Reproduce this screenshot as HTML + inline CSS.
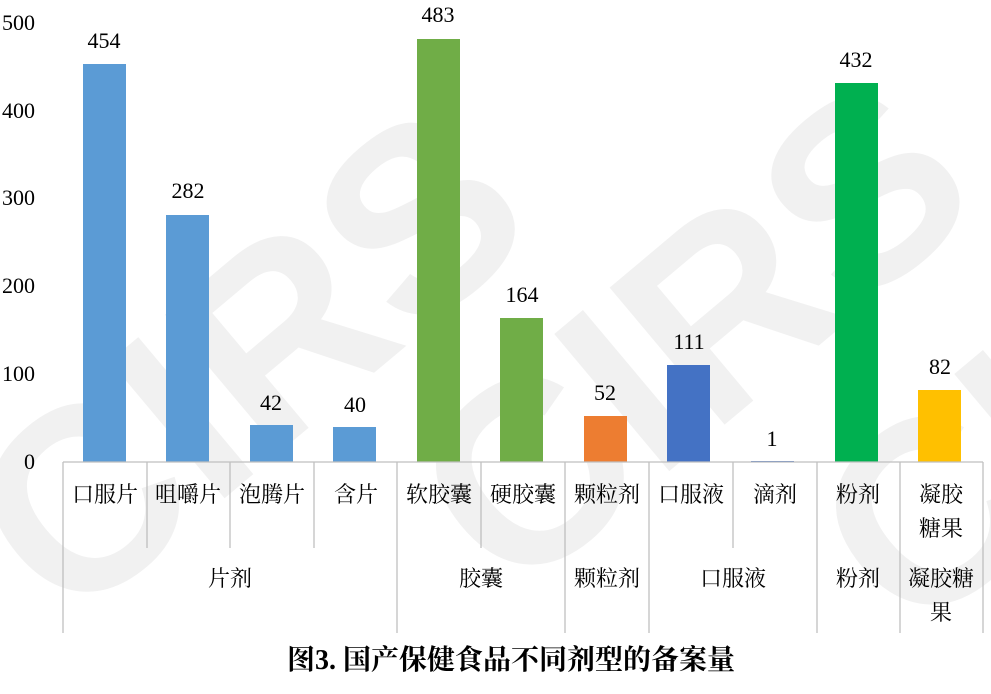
<!DOCTYPE html>
<html><head><meta charset="utf-8"><style>
body{margin:0;background:#fff;width:991px;height:694px;overflow:hidden}
svg{display:block}
text{font-family:"Liberation Serif","Noto Serif CJK SC",serif;fill:#000}
</style></head><body>
<svg width="991" height="694" viewBox="0 0 991 694">
<g font-size="260" font-weight="bold">
<text x="-60" y="560" transform="rotate(-40 100 420)" style="fill:#f1f1f1;font-family:'Liberation Sans',sans-serif">CIRS</text>
<text x="380" y="520" transform="rotate(-40 560 380)" style="fill:#f1f1f1;font-family:'Liberation Sans',sans-serif">CIRS</text>
<text x="780" y="560" transform="rotate(-40 960 420)" style="fill:#f1f1f1;font-family:'Liberation Sans',sans-serif">CIRS</text>
</g>
<g font-size="22">
<text x="2" y="30">500</text>
<text x="2" y="118">400</text>
<text x="2" y="205">300</text>
<text x="2" y="293">200</text>
<text x="2" y="381">100</text>
<text x="24" y="469">0</text>
</g>
<g>
<rect x="83" y="64" width="43" height="398" fill="#5B9BD5"/>
<rect x="166" y="215" width="43" height="247" fill="#5B9BD5"/>
<rect x="250" y="425" width="43" height="37" fill="#5B9BD5"/>
<rect x="333" y="427" width="43" height="35" fill="#5B9BD5"/>
<rect x="417" y="39" width="43" height="423" fill="#70AD47"/>
<rect x="500" y="318" width="43" height="144" fill="#70AD47"/>
<rect x="584" y="416" width="43" height="46" fill="#ED7D31"/>
<rect x="667" y="365" width="43" height="97" fill="#4472C4"/>
<rect x="751" y="461" width="43" height="1" fill="#4472C4"/>
<rect x="835" y="83" width="43" height="379" fill="#00B050"/>
<rect x="918" y="390" width="43" height="72" fill="#FFC000"/>
</g>
<g font-size="22" text-anchor="middle">
<text x="104" y="48">454</text>
<text x="188" y="198">282</text>
<text x="271" y="410">42</text>
<text x="355" y="412">40</text>
<text x="438" y="22">483</text>
<text x="522" y="302">164</text>
<text x="605" y="400">52</text>
<text x="689" y="349">111</text>
<text x="772" y="446">1</text>
<text x="856" y="67">432</text>
<text x="940" y="374">82</text>
</g>
<g stroke="#bfbfbf" stroke-width="1.3">
<line x1="63" y1="462" x2="983" y2="462"/>
<line x1="63" y1="462" x2="63" y2="633"/>
<line x1="397" y1="462" x2="397" y2="633"/>
<line x1="565" y1="462" x2="565" y2="633"/>
<line x1="649" y1="462" x2="649" y2="633"/>
<line x1="817" y1="462" x2="817" y2="633"/>
<line x1="900" y1="462" x2="900" y2="633"/>
<line x1="983" y1="462" x2="983" y2="633"/>
<line x1="147" y1="462" x2="147" y2="548"/>
<line x1="230" y1="462" x2="230" y2="548"/>
<line x1="314" y1="462" x2="314" y2="548"/>
<line x1="481" y1="462" x2="481" y2="548"/>
<line x1="733" y1="462" x2="733" y2="548"/>
</g>
<g font-size="22" text-anchor="middle">
<text x="105" y="502">口服片</text>
<text x="188" y="502">咀嚼片</text>
<text x="272" y="502">泡腾片</text>
<text x="356" y="502">含片</text>
<text x="439" y="502">软胶囊</text>
<text x="523" y="502">硬胶囊</text>
<text x="607" y="502">颗粒剂</text>
<text x="691" y="502">口服液</text>
<text x="775" y="502">滴剂</text>
<text x="858" y="502">粉剂</text>
<text x="941" y="502">凝胶</text>
<text x="941" y="536">糖果</text>
<text x="230" y="586">片剂</text>
<text x="481" y="586">胶囊</text>
<text x="607" y="586">颗粒剂</text>
<text x="733" y="586">口服液</text>
<text x="858" y="586">粉剂</text>
<text x="941" y="586">凝胶糖</text>
<text x="941" y="620">果</text>
</g>
<text x="511" y="669" font-size="28" font-weight="bold" text-anchor="middle">图3. 国产保健食品不同剂型的备案量</text>
</svg>
</body></html>
